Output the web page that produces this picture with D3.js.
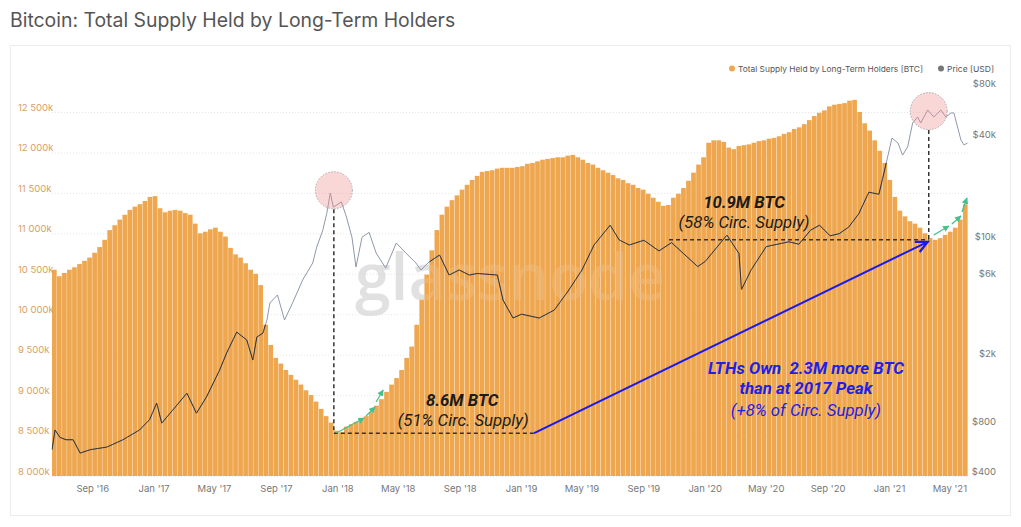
<!DOCTYPE html>
<html><head><meta charset="utf-8">
<script src="https://cdn.jsdelivr.net/npm/d3@7"></script>
<style>body{margin:0;background:#fff;} svg{display:block;}</style>
</head><body>
<svg id="c" width="1021" height="527"></svg>
<script>
const title = "Bitcoin: Total Supply Held by Long-Term Holders";
const legendLabels = ["Total Supply Held by Long-Term Holders [BTC]", "Price [USD]"];

// Long-term holder supply (thousand BTC), one bar every 10 days from supplyStart
const supplyStart = "2016-06-12";
const supplyStepDays = 10;
const supplyK = [
10550,10470,10510,10550,10580,10620,10660,10700,10760,10830,
10920,11040,11100,11170,11230,11290,11330,11360,11400,11450,
11460,11310,11260,11280,11290,11280,11250,11230,11120,11000,
11020,11050,11070,11020,10960,10820,10740,10700,10630,10550,
10500,10360,9870,9620,9460,9390,9310,9250,9190,9130,
9060,9000,8920,8830,8740,8660,8560,8540,8610,8640,
8670,8710,8740,8790,8870,8950,9040,9130,9210,9310,
9460,9600,9870,10180,10490,10790,11040,11230,11330,11410,
11470,11540,11600,11660,11710,11760,11770,11780,11800,11810,
11810,11810,11820,11830,11860,11870,11890,11910,11920,11930,
11940,11940,11960,11970,11940,11910,11870,11850,11810,11780,
11750,11720,11680,11660,11620,11600,11560,11540,11490,11440,
11390,11340,11350,11440,11490,11560,11650,11750,11850,11940,
12120,12150,12150,12130,12060,12040,12080,12090,12100,12120,
12140,12150,12170,12180,12200,12230,12250,12290,12310,12350,
12400,12450,12490,12520,12570,12590,12600,12610,12640,12650,
12500,12360,12270,12150,12020,11870,11660,11450,11280,11210,
11150,11120,11070,11000,10940,10920,10940,10980,11020,11070,
11170,11360];

// BTC price (USD)
const priceDates = [
"2016-06-12","2016-06-18","2016-06-28","2016-07-10","2016-07-24","2016-08-07","2016-08-27","2016-09-29","2016-10-31","2016-12-03",
"2016-12-23","2017-01-06","2017-01-16","2017-02-07","2017-03-07","2017-03-26","2017-04-15","2017-05-11","2017-05-25","2017-06-14",
"2017-07-04","2017-07-16","2017-07-24","2017-08-05","2017-08-13","2017-08-19","2017-09-03","2017-09-17","2017-10-03","2017-10-23",
"2017-11-12","2017-11-20","2017-12-02","2017-12-10","2017-12-17","2017-12-23","2018-01-08","2018-01-18","2018-01-29","2018-02-06",
"2018-02-18","2018-03-04","2018-03-18","2018-04-06","2018-04-27","2018-05-16","2018-06-05","2018-06-15","2018-07-01","2018-07-22",
"2018-08-10","2018-08-30","2018-09-19","2018-10-05","2018-11-14","2018-11-25","2018-12-15","2019-01-01","2019-02-05","2019-03-07",
"2019-04-05","2019-05-01","2019-05-25","2019-06-26","2019-07-14","2019-08-03","2019-09-01","2019-10-01","2019-10-26","2019-12-17",
"2020-01-01","2020-02-13","2020-03-08","2020-03-13","2020-04-01","2020-05-01","2020-06-15","2020-07-05","2020-07-28","2020-08-15",
"2020-09-05","2020-09-23","2020-10-12","2020-11-01","2020-11-21","2020-12-11","2020-12-20","2021-01-06","2021-01-18","2021-01-27",
"2021-02-06","2021-02-16","2021-02-26","2021-03-04","2021-03-18","2021-03-30","2021-04-13","2021-04-23","2021-05-03","2021-05-09",
"2021-05-23","2021-05-29","2021-06-05"];
const priceUSD = [
550,720,650,630,630,525,550,570,630,720,
830,1040,790,945,1190,905,1130,1630,2060,2740,
2460,1870,2560,2700,3230,4080,4550,3230,4080,5580,
7040,8750,11000,13900,18300,15100,16200,13200,10000,6660,
10000,10700,8070,6570,9250,8070,7040,6400,7130,7850,
5970,6400,5970,6100,5970,4250,3320,3500,3320,3700,
4870,6400,9000,11800,9640,9000,9600,8300,9300,6700,
7200,10300,8000,4900,6400,8800,9400,9100,11000,11800,
10200,10500,11500,13800,18500,18000,23400,38800,36200,30700,
34300,47600,51700,47600,56900,51700,56900,51700,54600,54600,
37700,35300,36200];

const leftTicks = [8000,8500,9000,9500,10000,10500,11000,11500,12000,12500];
const rightTicks = [400,800,2000,6000,10000,40000,80000];
const rightTickLabels = ["$400","$800","$2k","$6k","$10k","$40k","$80k"];

// annotation anchors
const peak2017 = {date:"2017-12-24", price:19000};
const peak2021 = {date:"2021-03-20", price:56000};
const low2017 = {date:"2017-12-24", supply:8530, endDate:"2019-01-26"};
const low2021 = {date:"2021-03-20", supply:10920, startDate:"2019-10-21"};
const greenArrows1 = [["2017-12-29",8532,"2018-02-22",8717],["2018-02-26",8742,"2018-03-16",8853],["2018-03-18",8915,"2018-04-01",9063]];
const greenArrows2 = [["2021-03-30",10979,"2021-04-29",11090],["2021-05-05",11115,"2021-05-23",11214],["2021-05-25",11264,"2021-06-04",11437]];

const svg = d3.select("#c");
const pLeft = 52, pRight = 968, pBottom = 476;

const parse = d3.utcParse("%Y-%m-%d");
const t0 = parse(supplyStart);
const bars = supplyK.map((v,i)=>({d0:d3.utcDay.offset(t0,i*supplyStepDays), d1:d3.utcDay.offset(t0,(i+1)*supplyStepDays), v}));
const x = d3.scaleUtc().domain([t0, bars[bars.length-1].d1]).range([pLeft, pRight]);
const yL = d3.scaleLinear().domain([8000, 12500]).range([pBottom, 112]);
const yR = d3.scaleLog().domain([400, 80000]).range([473, 85]);

// frame
svg.append("rect").attr("x",10.5).attr("y",45.5).attr("width",1000).attr("height",470)
  .attr("fill","#fff").attr("stroke","#ececec");

// title
svg.append("text").attr("x",10).attr("y",27).text(title)
  .attr("font-family","Inter, 'Open Sans', sans-serif").attr("font-size",19.4).attr("fill","#555");

// grid
svg.append("g").selectAll("line").data(leftTicks).join("line")
  .attr("x1",pLeft).attr("x2",pRight).attr("y1",d=>yL(d)+0.5).attr("y2",d=>yL(d)+0.5)
  .attr("stroke","#e6e6e6").attr("stroke-dasharray","1,2");

// watermark
svg.append("text").attr("x",510).attr("y",300).attr("text-anchor","middle")
  .attr("font-family","'Open Sans', sans-serif").attr("font-weight",600).attr("font-size",66)
  .attr("textLength",310).attr("lengthAdjust","spacingAndGlyphs")
  .attr("fill","#c8c8c8").attr("opacity",0.6).text("glassnode");

// bars
const barG = svg.append("g");
barG.selectAll("rect").data(bars).join("rect")
  .attr("x",d=>x(d.d0)).attr("width",d=>Math.max(0.5,x(d.d1)-x(d.d0)-0.35))
  .attr("y",d=>yL(d.v)).attr("height",d=>pBottom-yL(d.v))
  .attr("fill","#eea64f");
svg.append("text").attr("x",510).attr("y",300).attr("text-anchor","middle")
  .attr("font-family","'Open Sans', sans-serif").attr("font-weight",600).attr("font-size",66)
  .attr("textLength",310).attr("lengthAdjust","spacingAndGlyphs")
  .attr("fill","#ffffff").attr("opacity",0.12).text("glassnode");

// clip path of bars
const defs = svg.append("defs");
const cp = defs.append("clipPath").attr("id","barclip");
cp.selectAll("rect").data(bars).join("rect")
  .attr("x",d=>x(d.d0)).attr("width",d=>x(d.d1)-x(d.d0))
  .attr("y",d=>yL(d.v)).attr("height",d=>pBottom-yL(d.v));

const price = priceDates.map((d,i)=>({d:parse(d), p:priceUSD[i]}));
const line = d3.line().x(d=>x(d.d)).y(d=>yR(d.p));
svg.append("path").datum(price).attr("d",line).attr("fill","none")
  .attr("stroke","#8f98ac").attr("stroke-width",1);
svg.append("path").datum(price).attr("d",line).attr("fill","none")
  .attr("stroke","#3a3026").attr("stroke-width",1).attr("clip-path","url(#barclip)");

// left axis labels
svg.append("g").selectAll("text").data(leftTicks).join("text")
  .attr("x",18).attr("y",d=>yL(d)-4.5).attr("dy","0.35em")
  .attr("font-family","Inter, sans-serif").attr("font-size",9.5).attr("fill","#d9a065")
  .text(d=>d3.format(",")(d).replace(",", " ")+"k");

// right axis labels
svg.append("g").selectAll("text").data(rightTicks).join("text")
  .attr("x",996).attr("y",d=>yR(d)-1).attr("dy","0.35em").attr("text-anchor","end")
  .attr("font-family","Inter, sans-serif").attr("font-size",9.5).attr("fill","#777")
  .text((d,i)=>rightTickLabels[i]);

// x axis labels
const xt = x.ticks(d3.utcMonth.every(4)).filter(d=>x(d)>pLeft+10 && x(d)<pRight);
svg.append("g").selectAll("text").data(xt).join("text")
  .attr("x",d=>x(d)).attr("y",489).attr("dy","0.35em").attr("text-anchor","middle")
  .attr("font-family","Inter, sans-serif").attr("font-size",9.5).attr("fill","#777")
  .text(d3.utcFormat("%b '%y"));

// legend
const lg = svg.append("g").attr("font-family","Inter, sans-serif").attr("font-size",8).attr("fill","#555");
lg.append("circle").attr("cx",732).attr("cy",68.5).attr("r",3).attr("fill","#eea64f");
lg.append("text").attr("x",738).attr("y",71.5).attr("textLength",185).attr("lengthAdjust","spacingAndGlyphs").text(legendLabels[0]);
lg.append("circle").attr("cx",941).attr("cy",68.5).attr("r",3).attr("fill","#777");
lg.append("text").attr("x",947).attr("y",71.5).attr("textLength",47).attr("lengthAdjust","spacingAndGlyphs").text(legendLabels[1]);

// annotations
const ann = svg.append("g");
function circ(a){
  ann.append("circle").attr("cx",x(parse(a.date))).attr("cy",yR(a.price)).attr("r",18.5)
    .attr("fill","rgba(240,140,140,0.35)").attr("stroke","#999").attr("stroke-width",0.8).attr("stroke-dasharray","1.5,1.5");
}
circ(peak2017); circ(peak2021);
const dash = "4,3";
function dline(x1,y1,x2,y2){
  ann.append("line").attr("x1",x1).attr("x2",x2).attr("y1",y1).attr("y2",y2)
    .attr("stroke","#333").attr("stroke-width",1.5).attr("stroke-dasharray",dash);
}
dline(x(parse(low2017.date)), yR(peak2017.price)+19, x(parse(low2017.date)), yL(low2017.supply));
dline(x(parse(low2017.date)), yL(low2017.supply), x(parse(low2017.endDate)), yL(low2017.supply));
dline(x(parse(low2021.date)), yR(peak2021.price)+19, x(parse(low2021.date)), yL(low2021.supply));
dline(x(parse(low2021.startDate)), yL(low2021.supply), x(parse(low2021.date)), yL(low2021.supply));

defs.append("marker").attr("id","gh").attr("viewBox","0 0 10 10").attr("refX",9).attr("refY",5)
  .attr("markerWidth",5).attr("markerHeight",5).attr("orient","auto")
  .append("path").attr("d","M0,0 L10,5 L0,10 z").attr("fill","#45c08a");
[...greenArrows1, ...greenArrows2].forEach(a=>{
  ann.append("line").attr("x1",x(parse(a[0]))).attr("y1",yL(a[1])).attr("x2",x(parse(a[2]))).attr("y2",yL(a[3]))
    .attr("stroke","#45c08a").attr("stroke-width",1.3).attr("marker-end","url(#gh)");
});
// blue arrow
const bx1 = x(parse(low2017.endDate)), by1 = yL(low2017.supply);
const bx2 = x(parse(low2021.date)) - 1, by2 = yL(low2021.supply) + 2;
ann.append("line").attr("x1",bx1).attr("y1",by1).attr("x2",bx2).attr("y2",by2)
  .attr("stroke","#1a1aee").attr("stroke-width",2);
const ang = Math.atan2(by2-by1, bx2-bx1);
const hl = 13, ha = 0.45;
ann.append("path").attr("d",`M${bx2-hl*Math.cos(ang-ha)},${by2-hl*Math.sin(ang-ha)} L${bx2},${by2} L${bx2-hl*Math.cos(ang+ha)},${by2-hl*Math.sin(ang+ha)}`)
  .attr("fill","none").attr("stroke","#1a1aee").attr("stroke-width",2.2);

function txt(dateStr, v, s, opts){
  ann.append("text").attr("x",x(parse(dateStr))).attr("y",yL(v)).attr("text-anchor","middle")
    .attr("font-family","Roboto, sans-serif").attr("font-style","italic")
    .style("white-space","pre")
    .attr("font-weight",opts.bold?700:400).attr("font-size",16.8).attr("fill",opts.color).text(s);
}
txt("2018-09-05", 8865, "8.6M BTC", {bold:true, color:"#1b1b1b"});
txt("2018-09-07", 8618, "(51% Circ. Supply)", {bold:false, color:"#1b1b1b"});
txt("2020-03-18", 11313, "10.9M BTC", {bold:true, color:"#1b1b1b"});
txt("2020-03-18", 11066, "(58% Circ. Supply)", {bold:false, color:"#1b1b1b"});
txt("2020-07-19", 9261, "LTHs Own  2.3M more BTC", {bold:true, color:"#1f1fe6"});
txt("2020-07-19", 9014, "than at 2017 Peak", {bold:true, color:"#1f1fe6"});
txt("2020-07-19", 8742, "(+8% of Circ. Supply)", {bold:false, color:"#1f1fe6"});
</script>
</body></html>
